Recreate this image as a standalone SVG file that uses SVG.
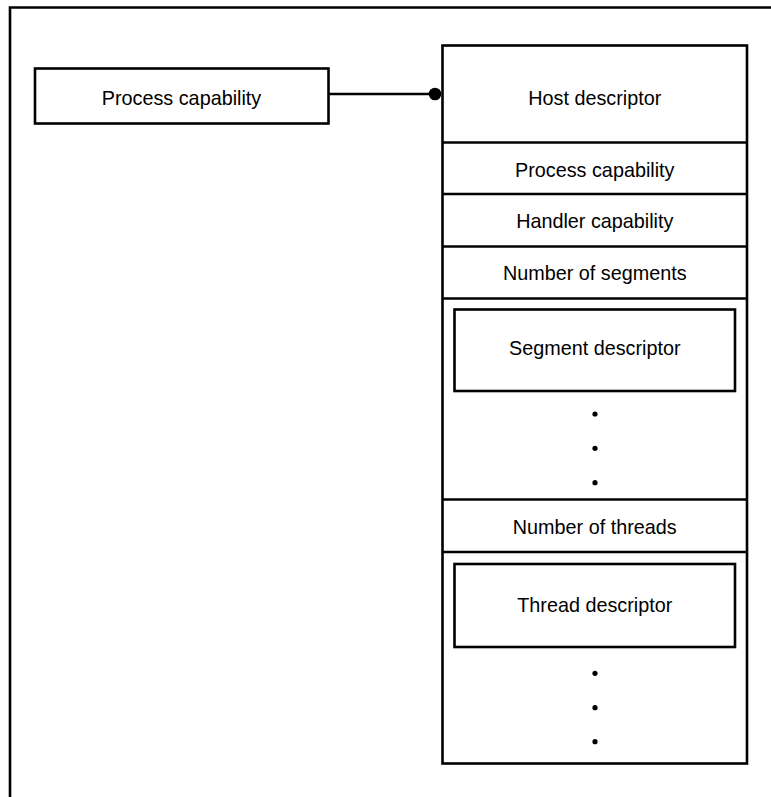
<svg xmlns="http://www.w3.org/2000/svg" width="771" height="797" viewBox="0 0 771 797">
<style>
.box{fill:#fff;stroke:#000;stroke-width:2.6}
.ln{fill:none;stroke:#000;stroke-width:2.6}
.t{font-family:"Liberation Sans",Arial,sans-serif;font-size:19.8px;fill:#000;text-anchor:middle}
.dot{fill:#000}
</style>
<defs>
<marker id="ball" markerWidth="14" markerHeight="14" refX="7" refY="7" markerUnits="userSpaceOnUse" orient="auto">
<circle cx="7" cy="7" r="6.3" fill="#000"/>
</marker>
</defs>
<rect width="771" height="797" fill="#fff"/>
<path class="ln" d="M10,797 V7.5 H771" stroke-width="2.2"/>
<g id="process-capability-ptr">
<rect class="box" x="35" y="68.5" width="293.5" height="55"/>
<text class="t" x="181.5" y="105">Process capability</text>
</g>
<g id="host-record">
<rect class="box" x="442.5" y="45.5" width="304.5" height="718"/>
</g>
<g id="host-descriptor">
<text class="t" x="594.75" y="105">Host descriptor</text>
</g>
<g id="row-process-capability">
<line class="ln" x1="442.5" y1="142.5" x2="747" y2="142.5"/>
<text class="t" x="594.75" y="176.5">Process capability</text>
</g>
<g id="row-handler-capability">
<line class="ln" x1="442.5" y1="194" x2="747" y2="194"/>
<text class="t" x="594.75" y="227.5">Handler capability</text>
</g>
<g id="row-number-of-segments">
<line class="ln" x1="442.5" y1="246.5" x2="747" y2="246.5"/>
<text class="t" x="594.75" y="279.5">Number of segments</text>
</g>
<g id="segment-descriptor">
<line class="ln" x1="442.5" y1="298.5" x2="747" y2="298.5"/>
<rect class="box" x="454.5" y="309.5" width="280.5" height="81.5"/>
<text class="t" x="594.75" y="355">Segment descriptor</text>
</g>
<g id="segment-dots">
<circle class="dot" cx="595" cy="414" r="2.6"/>
<circle class="dot" cx="595" cy="448.3" r="2.6"/>
<circle class="dot" cx="595" cy="482.7" r="2.6"/>
</g>
<g id="row-number-of-threads">
<line class="ln" x1="442.5" y1="499.5" x2="747" y2="499.5"/>
<text class="t" x="594.75" y="534">Number of threads</text>
</g>
<g id="thread-descriptor">
<line class="ln" x1="442.5" y1="552" x2="747" y2="552"/>
<rect class="box" x="454.5" y="564" width="280.5" height="83"/>
<text class="t" x="594.75" y="611.5">Thread descriptor</text>
</g>
<g id="thread-dots">
<circle class="dot" cx="595" cy="673.3" r="2.6"/>
<circle class="dot" cx="595" cy="707.7" r="2.6"/>
<circle class="dot" cx="595" cy="741.7" r="2.6"/>
</g>
<g id="connectors">
<line class="ln" x1="328.5" y1="94" x2="435" y2="94" marker-end="url(#ball)"/>
</g>
</svg>
